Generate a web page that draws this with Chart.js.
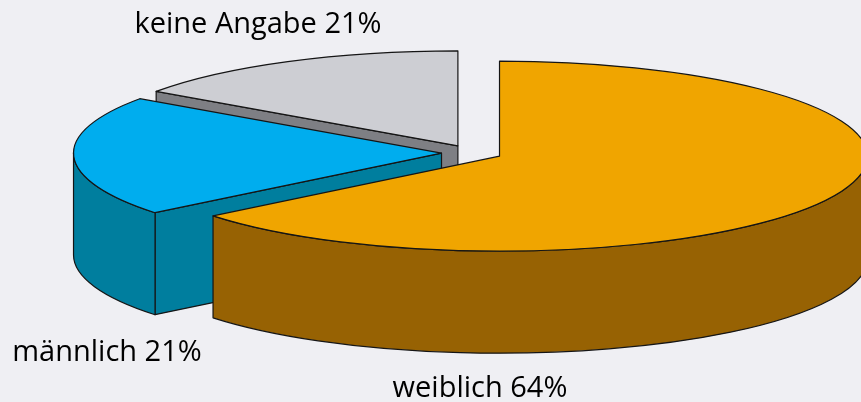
<!DOCTYPE html>
<html>
<head>
<meta charset="utf-8">
<script src="https://cdn.jsdelivr.net/npm/chart.js@4.4.1/dist/chart.umd.min.js"></script>
<style>
  html, body { margin: 0; padding: 0; background: #EFEFF3; }
  #wrap { width: 861px; height: 402px; }
</style>
</head>
<body>
<div id="wrap"><canvas id="c" width="861" height="402"></canvas></div>
<script>
// ---- data ----
const categories = ['weiblich', 'männlich', 'keine Angabe'];
const shareValues = [64.2, 20.5, 15.3];
const shareLabels = ['64%', '21%', '21%'];

// ---- styling ----
const topColors  = ['#F0A500', '#00ADEE', '#CDCED3'];
const sideColors = ['#976203', '#007E9E', '#7E7F84'];
const edgeColor = '#151515';
const CX = 472, CY = 152.8;   // centre of the (unexploded) pie
const RX = 368;               // horizontal radius
const RY = 95;                // vertical radius (tilt)
const DEPTH = 102;            // extrusion
const EXPLODE = 30.5;
const labelPos = [
  {x: 480, y: 397},
  {x: 107, y: 361},
  {x: 258, y: 33}
];

const pie3d = {
  id: 'pie3d',
  beforeDatasetsDraw(chart) {
    const ctx = chart.ctx;
    const meta = chart.getDatasetMeta(0);
    const slices = meta.data.map((arc, i) => {
      const p = arc.getProps(['x', 'y', 'startAngle', 'endAngle', 'outerRadius'], true);
      const mid = (p.startAngle + p.endAngle) / 2;
      const ax = CX + EXPLODE * Math.cos(mid);
      const ay = CY + EXPLODE * (RY / RX) * Math.sin(mid);
      return {arc, i, p, ax, ay};
    });
    const rim = (s, a) => [s.ax + RX * Math.cos(a), s.ay + RY * Math.sin(a)];

    // collect visible side faces
    const faces = [];
    slices.forEach(s => {
      const st = s.p.startAngle, en = s.p.endAngle;
      const a = Math.max(st, 0), b = Math.min(en, Math.PI);
      if (b > a) {
        const m = (a + b) / 2;
        faces.push({s, type: 'outer', a, b, key: rim(s, m)[1]});
      }
      if (Math.cos(st) < -1e-6) {
        const r = rim(s, st);
        faces.push({s, type: 'radial', ang: st, key: (s.ay + r[1]) / 2});
      }
      if (Math.cos(en) > 1e-6) {
        const r = rim(s, en);
        faces.push({s, type: 'radial', ang: en, key: (s.ay + r[1]) / 2});
      }
    });
    faces.sort((f1, f2) => f1.key - f2.key);

    ctx.save();
    ctx.lineJoin = 'round';
    faces.forEach(f => {
      const s = f.s;
      ctx.beginPath();
      if (f.type === 'outer') {
        ctx.ellipse(s.ax, s.ay, RX, RY, 0, f.a, f.b, false);
        const e = rim(s, f.b);
        ctx.lineTo(e[0], e[1] + DEPTH);
        ctx.ellipse(s.ax, s.ay + DEPTH, RX, RY, 0, f.b, f.a, true);
        ctx.closePath();
      } else {
        const r = rim(s, f.ang);
        ctx.moveTo(s.ax, s.ay);
        ctx.lineTo(r[0], r[1]);
        ctx.lineTo(r[0], r[1] + DEPTH);
        ctx.lineTo(s.ax, s.ay + DEPTH);
        ctx.closePath();
      }
      ctx.fillStyle = sideColors[s.i];
      ctx.fill();
      ctx.lineWidth = 1.2;
      ctx.strokeStyle = edgeColor;
      ctx.stroke();
    });

    // top faces drawn by the library's arc elements, flattened into an ellipse
    slices.forEach(s => {
      ctx.save();
      ctx.translate(s.ax, s.ay);
      ctx.scale(RX / s.p.outerRadius, RY / s.p.outerRadius);
      ctx.translate(-s.p.x, -s.p.y);
      s.arc.draw(ctx);
      ctx.restore();
    });
    // outlines of top faces
    slices.forEach(s => {
      const r0 = rim(s, s.p.startAngle);
      ctx.beginPath();
      ctx.moveTo(s.ax, s.ay);
      ctx.lineTo(r0[0], r0[1]);
      ctx.ellipse(s.ax, s.ay, RX, RY, 0, s.p.startAngle, s.p.endAngle, false);
      ctx.closePath();
      ctx.lineWidth = 1.2;
      ctx.strokeStyle = edgeColor;
      ctx.stroke();
    });
    ctx.restore();
    return false;
  },
  afterDraw(chart) {
    const ctx = chart.ctx;
    ctx.save();
    ctx.font = '29px "Open Sans", "Noto Sans", sans-serif';
    ctx.fillStyle = '#000000';
    ctx.textAlign = 'center';
    ctx.textBaseline = 'alphabetic';
    categories.forEach((c, i) => {
      ctx.fillText(c + ' ' + shareLabels[i], labelPos[i].x, labelPos[i].y);
    });
    ctx.restore();
  }
};

new Chart(document.getElementById('c'), {
  type: 'pie',
  data: {
    labels: categories,
    datasets: [{
      data: shareValues,
      backgroundColor: topColors,
      borderWidth: 0,
      offset: 0,
      hoverOffset: 0
    }]
  },
  options: {
    responsive: false,
    animation: false,
    events: [],
    plugins: { legend: { display: false }, tooltip: { enabled: false } }
  },
  plugins: [pie3d]
});
</script>
</body>
</html>
